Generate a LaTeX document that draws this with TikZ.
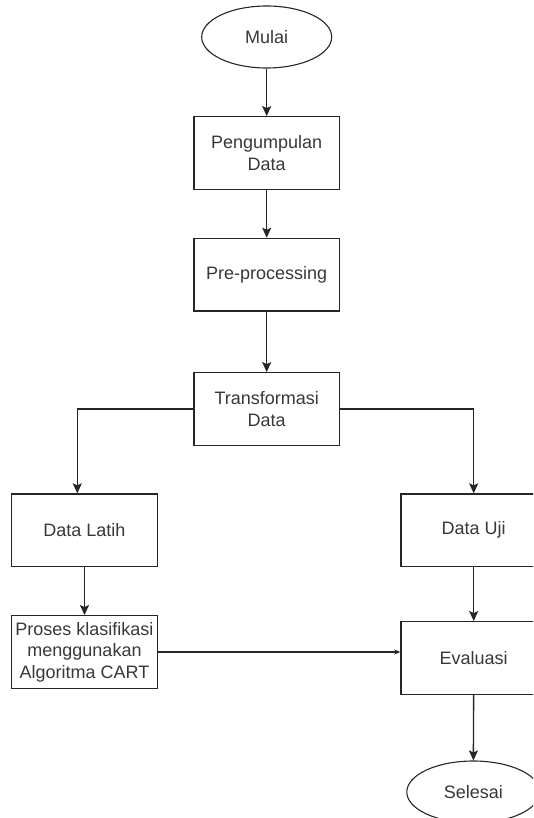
\documentclass[tikz,border=0pt]{standalone}
\usepackage{fontspec}
\setmainfont{Liberation Sans}
\usetikzlibrary{arrows.meta,shapes.geometric}
\begin{document}
\begin{tikzpicture}[x=1pt,y=-1pt,
  every node/.style={text=black!78, font=\fontsize{18}{21.5}\selectfont, align=center, inner sep=0pt},
  box/.style={draw=black!85, line width=1.4pt, rectangle, minimum width=145.5pt, minimum height=72.5pt},
  term/.style={draw=black!85, line width=1.1pt, ellipse, minimum width=130pt, minimum height=62pt},
  flow/.style={draw=black!85, line width=1.4pt, -{Stealth[length=10pt,width=9pt,inset=2pt]}},
  link/.style={draw=black!85, line width=1.1pt}]
  \clip (0,0) rectangle (533,818);
  \fill[white] (0,0) rectangle (533,818);

  % main column
  \node[term] (mulai) at (266.7,37) {Mulai};
  \node[box] (kumpul) at (266.7,153) {Pengumpulan\\Data};
  \node[box] (pre) at (266.7,274.7) {Pre-processing};
  \node[box] (trans) at (266.7,409) {Transformasi\\Data};

  % two branches
  \node[box] (latih) at (84.5,530.3) {Data Latih};
  \node[box] (uji) at (473.7,530.3) {Data Uji};
  \node[box] (cart) at (84.5,652) {Proses klasifikasi\\menggunakan\\Algoritma CART};
  \node[box] (eval) at (473.7,658) {Evaluasi};
  \node[term, minimum width=133pt] (selesai) at (473.3,792) {Selesai};

  \draw[flow] (mulai) -- (kumpul);
  \draw[flow] (kumpul) -- (pre);
  \draw[flow] (pre) -- (trans);
  \draw[flow] (trans.west) -| ([xshift=-7.2pt]latih.north);
  \draw[flow] (trans.east) -| (uji.north);
  \draw[flow] (latih) -- (cart);
  \draw[flow] (uji) -- (eval);
  \draw[flow] (eval) -- (selesai);
  \draw[link, -{Stealth[length=6pt,width=5pt]}] (cart.east) -- (cart.east -| eval.west);
\end{tikzpicture}
\end{document}
